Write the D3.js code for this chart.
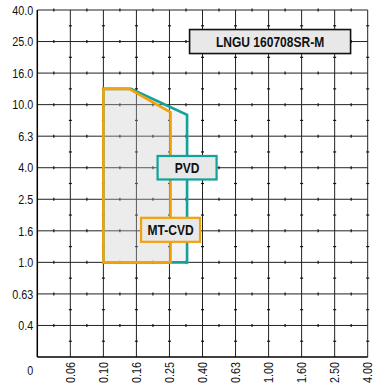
<!DOCTYPE html>
<html>
<head>
<meta charset="utf-8">
<script src="https://cdn.jsdelivr.net/npm/d3@7"></script>
<style>
  body { margin: 0; background: #fff; }
  text { font-family: "Liberation Sans", Arial, sans-serif; }
</style>
</head>
<body>
<div id="chart"></div>
<script>
// axis values (evenly spaced steps, not a true log scale)
const xTicks = [0, 0.06, 0.10, 0.16, 0.25, 0.40, 0.63, 1.00, 1.60, 2.50, 4.00];
const xLabels = ["", "0.06", "0.10", "0.16", "0.25", "0.40", "0.63", "1.00", "1.60", "2.50", "4.00"];
const yTicks = [0, 0.4, 0.63, 1.0, 1.6, 2.5, 4.0, 6.3, 10.0, 16.0, 25.0, 40.0];
const yLabels = ["0", "0.4", "0.63", "1.0", "1.6", "2.5", "4.0", "6.3", "10.0", "16.0", "25.0", "40.0"];

// application areas: feed (x) vs depth of cut (y)
const pvdFeed  = [0.10, 0.10, 0.15, 0.33, 0.33];
const pvdDepth = [1.0, 13.0, 13.0, 8.8, 1.0];
const cvdFeed  = [0.10, 0.10, 0.147, 0.255, 0.255];
const cvdDepth = [1.0, 13.0, 13.0, 9.1, 1.0];

const title = "LNGU 160708SR-M";
const areaLabels = ["PVD", "MT-CVD"];
const labelAt = [[0.33, 4.0], [0.255, 1.6]];

const W = 377, H = 387;
const margin = { top: 10, right: 9.3, bottom: 30, left: 37.3 },
    width = W - margin.left - margin.right,
    height = H - margin.top - margin.bottom;

// the original font is a narrow one, so squeeze text horizontally
const narrow = 0.8;

const svg = d3.select("#chart")
    .append("svg")
    .attr("width", W)
    .attr("height", H)
    .append("g")
    .attr("transform", `translate(${margin.left},${margin.top})`);

// piecewise scales so every tick gets the same spacing
const x = d3.scaleLinear()
    .domain(xTicks)
    .range(xTicks.map((d, i) => i * width / (xTicks.length - 1)));
const y = d3.scaleLinear()
    .domain(yTicks)
    .range(yTicks.map((d, i) => height - i * height / (yTicks.length - 1)));

// grid
const grid = svg.append("g");
grid.selectAll(".vx")
    .data(xTicks.slice(1))
    .join("line")
    .attr("x1", d => x(d)).attr("x2", d => x(d))
    .attr("y1", 0).attr("y2", height)
    .attr("stroke", "#222").attr("stroke-width", 1);
grid.selectAll(".hy")
    .data(yTicks.slice(1))
    .join("line")
    .attr("y1", d => y(d)).attr("y2", d => y(d))
    .attr("x1", 0).attr("x2", width)
    .attr("stroke", "#222").attr("stroke-width", 1);

// small marks half way between grid lines
const xMid = d3.pairs(xTicks.map(x)).map(p => (p[0] + p[1]) / 2);
const yMid = d3.pairs(yTicks.map(y)).map(p => (p[0] + p[1]) / 2);
yTicks.slice(1).forEach(t => {
    grid.selectAll(null)
        .data(xMid)
        .join("line")
        .attr("x1", d => d).attr("x2", d => d)
        .attr("y1", y(t) - 1.5).attr("y2", y(t) + 1.5)
        .attr("stroke", "#111").attr("stroke-width", 1.2);
});
xTicks.slice(1).forEach(t => {
    grid.selectAll(null)
        .data(yMid)
        .join("line")
        .attr("y1", d => d).attr("y2", d => d)
        .attr("x1", x(t) - 1.5).attr("x2", x(t) + 1.5)
        .attr("stroke", "#111").attr("stroke-width", 1.2);
});

// axes
svg.append("line")
    .attr("x1", 0).attr("x2", 0).attr("y1", 0).attr("y2", height)
    .attr("stroke", "#000").attr("stroke-width", 1.5);
svg.append("line")
    .attr("x1", 0).attr("x2", width).attr("y1", height).attr("y2", height)
    .attr("stroke", "#000").attr("stroke-width", 1.5);

// y labels
svg.append("g")
    .selectAll("text")
    .data(yTicks)
    .join("text")
    .attr("transform", (d, i) => `translate(-4,${i === 0 ? height + 13 : y(d)})scale(${narrow},1)`)
    .attr("dy", "0.35em")
    .attr("text-anchor", "end")
    .attr("fill", "#111")
    .style("font-size", "13.5px")
    .text((d, i) => yLabels[i]);

// x labels, rotated
svg.append("g")
    .selectAll("text")
    .data(xTicks)
    .join("text")
    .attr("transform", d => `translate(${x(d)},${height + 5})rotate(-90)scale(${narrow},1)`)
    .attr("dy", "0.35em")
    .attr("text-anchor", "end")
    .attr("fill", "#111")
    .style("font-size", "13.5px")
    .text((d, i) => xLabels[i]);

// areas
const line = d3.line().x(d => x(d[0])).y(d => y(d[1]));
const pvd = d3.zip(pvdFeed, pvdDepth);
const cvd = d3.zip(cvdFeed, cvdDepth);

svg.append("path")
    .attr("d", line(pvd) + "Z")
    .attr("fill", "#c8c8c8").attr("fill-opacity", 0.22)
    .attr("stroke", "#12a19b").attr("stroke-width", 2.6)
    .attr("stroke-linejoin", "miter");
svg.append("path")
    .attr("d", line(cvd) + "Z")
    .attr("fill", "#c8c8c8").attr("fill-opacity", 0.15)
    .attr("stroke", "#f2a20c").attr("stroke-width", 2.6)
    .attr("stroke-linejoin", "miter");

// label boxes
function labelBox(cx, cy, w, h, txt, stroke, sw) {
    const g = svg.append("g").attr("transform", `translate(${cx},${cy})`);
    g.append("rect")
        .attr("x", -w / 2).attr("y", -h / 2)
        .attr("width", w).attr("height", h)
        .attr("fill", "#e8e8e8")
        .attr("stroke", stroke).attr("stroke-width", sw);
    g.append("text")
        .attr("transform", `scale(${narrow + 0.03},1)`)
        .attr("dy", "0.36em")
        .attr("text-anchor", "middle")
        .attr("fill", "#111")
        .style("font-size", "14.5px")
        .style("font-weight", "bold")
        .text(txt);
}

labelBox(x(1.00) + 1.5, y(25.0), 161, 24, title, "#111", 1.6);
labelBox(x(labelAt[0][0]), y(labelAt[0][1]), 59, 23.5, areaLabels[0], "#12a19b", 2.2);
labelBox(x(labelAt[1][0]), y(labelAt[1][1]) - 1, 59, 24, areaLabels[1], "#f2a20c", 2.2);
</script>
</body>
</html>
